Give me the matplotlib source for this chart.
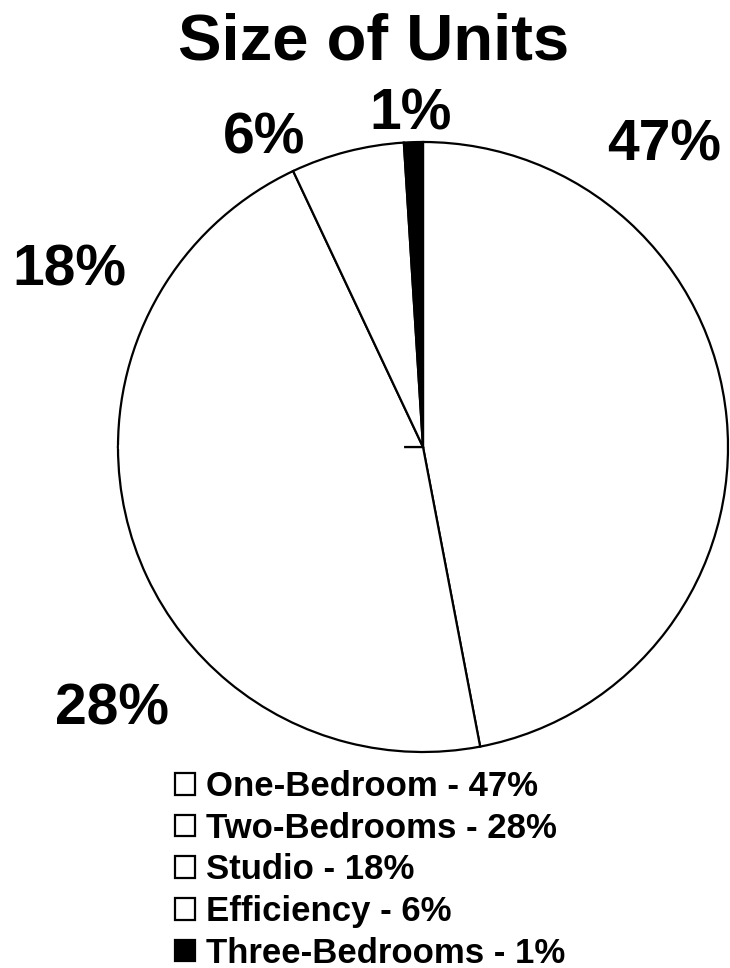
import matplotlib.pyplot as plt
import numpy as np

plt.rcParams['font.family'] = ['Liberation Sans', 'DejaVu Sans']
plt.rcParams['font.weight'] = 'bold'

# Data
categories = ["One-Bedroom", "Two-Bedrooms", "Studio", "Efficiency", "Three-Bedrooms"]
shares = [47, 28, 18, 6, 1]
colors = ["white", "white", "white", "white", "black"]
# where each percentage label sits (data units, pie radius = 1)
label_pos = [(0.79, 0.99), (-1.02, -0.86), (-1.16, 0.58), (-0.52, 1.01), (-0.04, 1.09)]

W, H = 730, 968
fig = plt.figure(figsize=(W / 100, H / 100), dpi=100)

# pie: centre (423, 447) px, radius 305 px
cx, cy, r = 423, 447, 305
ax = fig.add_axes([(cx - r) / W, (H - cy - r) / H, 2 * r / W, 2 * r / H])
wedges, _ = ax.pie(
    shares,
    colors=colors,
    startangle=90,
    counterclock=False,
    wedgeprops=dict(edgecolor="black", linewidth=1.6),
)
ax.set_xlim(-1, 1)
ax.set_ylim(-1, 1)
ax.set_aspect("equal")
ax.axis("off")

# the Two-Bedrooms / Studio divider barely shows in the original
ang = np.deg2rad(wedges[2].theta2)
ax.plot([0.07 * np.cos(ang), 0.99 * np.cos(ang)],
        [0.07 * np.sin(ang), 0.99 * np.sin(ang)], color="white", lw=3)

for (x, y), v in zip(label_pos, shares):
    ax.text(x, y, f"{v}%", ha="center", va="center", fontsize=41,
            fontweight="bold", clip_on=False)

fig.text(374 / W, 1 - 42 / H, "Size of Units", ha="center", va="center",
         fontsize=47, fontweight="bold")

labels = [f"{c} - {v}%" for c, v in zip(categories, shares)]
fig.legend(wedges, labels, loc="upper left",
           bbox_to_anchor=(175 / W, 1 - 770 / H),
           frameon=False, fontsize=25, borderpad=0, borderaxespad=0,
           handlelength=0.58, handleheight=0.58, handletextpad=0.3,
           labelspacing=0.25)

fig.savefig("out.png", dpi=100)
